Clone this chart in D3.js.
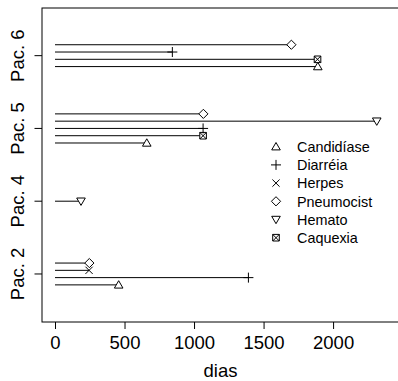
<!DOCTYPE html>
<html>
<head>
<meta charset="utf-8">
<script src="https://cdn.jsdelivr.net/npm/d3@7"></script>
<style>
  body { margin: 0; background: #fff; }
  svg text { font-family: "Liberation Sans", Arial, sans-serif; fill: #000; }
</style>
</head>
<body>
<div id="chart"></div>
<script>
(function () {

    // patients shown on the y axis (bottom to top)
    var patients = ["Pac. 2", "Pac. 4", "Pac. 5", "Pac. 6"];

    // legend order and the R pch used for each disease
    var diseases = ["Candidíase", "Diarréia", "Herpes", "Pneumocist", "Hemato", "Caquexia"];
    var pch = [2, 3, 4, 5, 6, 7];

    // one entry per event: patient, disease, day of the event
    var evPatient = ["Pac. 2", "Pac. 2", "Pac. 2", "Pac. 2",
                     "Pac. 4",
                     "Pac. 5", "Pac. 5", "Pac. 5", "Pac. 5", "Pac. 5",
                     "Pac. 6", "Pac. 6", "Pac. 6", "Pac. 6"];
    var evDisease = ["Candidíase", "Diarréia", "Herpes", "Pneumocist",
                     "Hemato",
                     "Candidíase", "Caquexia", "Diarréia", "Hemato", "Pneumocist",
                     "Candidíase", "Caquexia", "Diarréia", "Pneumocist"];
    var evDay = [458, 1391, 245, 247,
                 187,
                 660, 1065, 1065, 2314, 1067,
                 1890, 1888, 844, 1700];

    var xTicks = [0, 500, 1000, 1500, 2000];

    var width = 398, height = 381,
        left = 42, top = 8, bottom = 322, right = 399;

    var x = d3.scaleLinear().domain([-93.5, 2474]).range([left, right]);
    var y = d3.scaleLinear().domain([0.34, 4.655]).range([bottom, top]);

    var svg = d3.select("#chart").append("svg")
        .attr("width", width).attr("height", height);

    // build the events, stacked inside each patient in alphabetical order
    var events = evDay.map(function (d, i) {
        return {patient: evPatient[i], disease: evDisease[i], day: d};
    });
    var byPatient = d3.group(events, function (d) { return d.patient; });
    byPatient.forEach(function (list) {
        list.sort(function (a, b) { return d3.ascending(a.disease, b.disease); });
        var n = list.length;
        list.forEach(function (d, j) {
            d.yv = patients.indexOf(d.patient) + 1 + (j - (n - 1) / 2) * 0.1;
        });
    });

    function symbolPath(p) {
        switch (p) {
            case 2: return "M0,-4.2L4.3,3.2L-4.3,3.2Z";
            case 3: return "M-5,0H5M0,-5V5";
            case 4: return "M-3.6,-3.6L3.6,3.6M-3.6,3.6L3.6,-3.6";
            case 5: return "M0,-4.6L4.6,0L0,4.6L-4.6,0Z";
            case 6: return "M0,4.2L4.3,-3.2L-4.3,-3.2Z";
            case 7: return "M-3.3,-3.3H3.3V3.3H-3.3ZM-3.3,-3.3L3.3,3.3M-3.3,3.3L3.3,-3.3";
        }
    }

    // segments from day 0 to the event
    svg.append("g").selectAll("line")
        .data(events)
        .enter().append("line")
        .attr("x1", x(0))
        .attr("x2", function (d) { return x(d.day); })
        .attr("y1", function (d) { return y(d.yv); })
        .attr("y2", function (d) { return y(d.yv); })
        .style("stroke", "#000")
        .style("stroke-width", 1);

    svg.append("g").selectAll("path")
        .data(events)
        .enter().append("path")
        .attr("transform", function (d) {
            return "translate(" + x(d.day) + "," + y(d.yv) + ")";
        })
        .attr("d", function (d) { return symbolPath(pch[diseases.indexOf(d.disease)]); })
        .style("fill", "#fff")
        .style("stroke", "#000")
        .style("stroke-width", 1);

    // box
    svg.append("rect")
        .attr("x", left).attr("y", top)
        .attr("width", right - left).attr("height", bottom - top)
        .style("fill", "none").style("stroke", "#000").style("stroke-width", 1);

    // x axis
    var xAxis = svg.append("g")
        .attr("transform", "translate(0," + bottom + ")")
        .call(d3.axisBottom(x).tickValues(xTicks).tickFormat(d3.format("d"))
            .tickSize(7).tickPadding(7).tickSizeOuter(0));
    xAxis.select(".domain").remove();
    xAxis.attr("font-family", null);
    xAxis.selectAll("text").style("font-size", "18.5px");

    // y axis
    var yAxis = svg.append("g").attr("transform", "translate(" + left + ",0)");
    patients.forEach(function (p, i) {
        var yy = y(i + 1);
        yAxis.append("line")
            .attr("x1", -7.5).attr("x2", 0)
            .attr("y1", yy).attr("y2", yy)
            .style("stroke", "#000");
        yAxis.append("text")
            .attr("transform", "translate(-18," + yy + ") rotate(-90)")
            .attr("text-anchor", "middle")
            .style("font-size", "18.5px")
            .text(p);
    });

    svg.append("text")
        .attr("x", (left + right) / 2).attr("y", 377)
        .attr("text-anchor", "middle")
        .style("font-size", "18.5px")
        .text("dias");

    // legend
    var legend = svg.append("g");
    diseases.forEach(function (d, i) {
        var yy = 146.7 + i * 18.2;
        legend.append("path")
            .attr("transform", "translate(276," + yy + ")")
            .attr("d", symbolPath(pch[i]))
            .style("fill", "#fff").style("stroke", "#000");
        legend.append("text")
            .attr("x", 297).attr("y", yy + 5.2)
            .style("font-size", "14.4px")
            .text(d);
    });
}());
</script>
</body>
</html>
